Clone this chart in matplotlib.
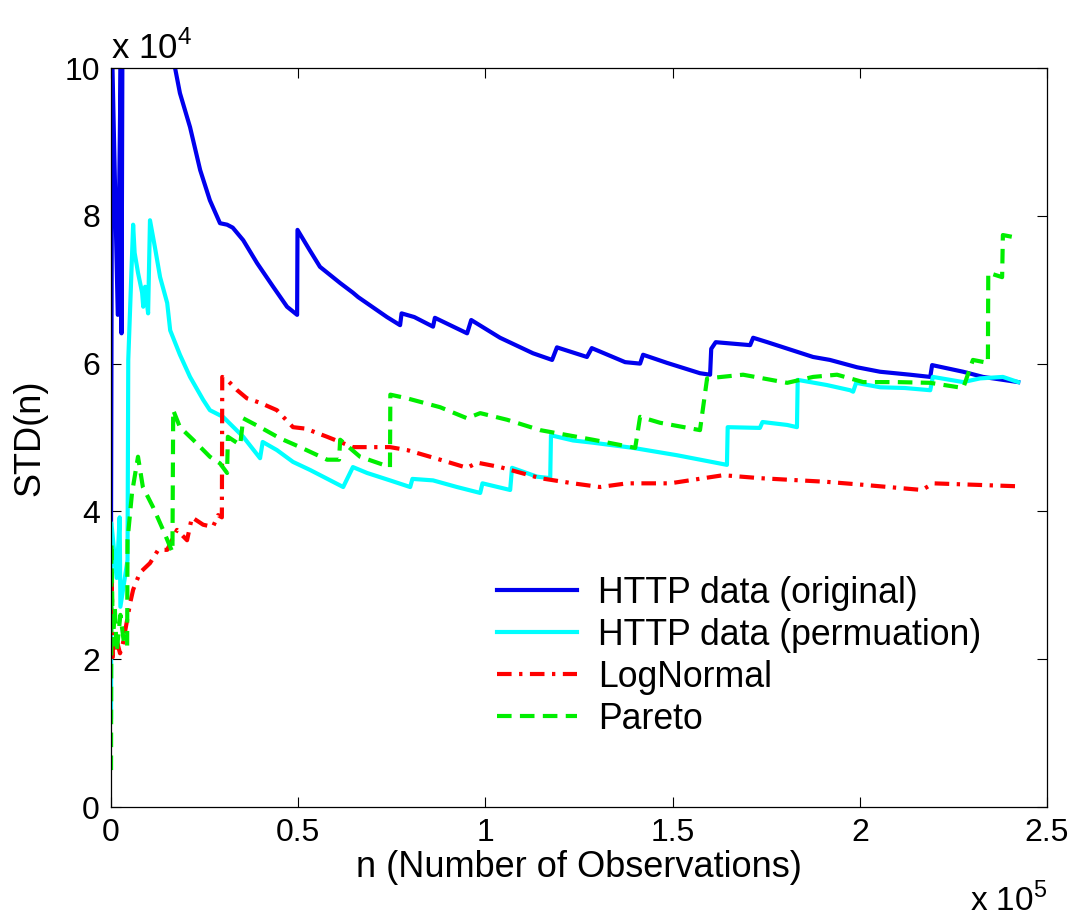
import matplotlib
matplotlib.use("Agg")
import matplotlib.pyplot as plt

plt.rcParams['font.family'] = ['Liberation Sans', 'DejaVu Sans']
plt.rcParams['mathtext.fontset'] = 'custom'
plt.rcParams['mathtext.rm'] = 'Liberation Sans'

# x in thousands of observations, y in thousands
orig_x = [0, 0.3, 1.8, 2.6, 2.8, 3.2, 10, 17.1, 18.4, 21.1, 23.8, 26.4, 29.1, 31.0, 32.5, 35.3,
          39.0, 43.3, 47.0, 49.7, 49.8, 53.0, 55.8, 61.2, 64.6, 66.0, 73.7, 77.2, 77.6, 81.0,
          86.0, 86.5, 95.1, 96.2, 103.9, 112.7, 117.8, 119.1, 127.1, 128.4, 137.3, 141.3, 142.1,
          148.5, 157.3, 160.0, 160.3, 161.5, 170.7, 171.5, 175.3, 187.5, 192.0, 199.3, 205.4,
          213.4, 218.8, 219.3, 227.6, 232.9, 242.3]
orig_y = [38.5, 102, 66.6, 102, 64.1, 130, 115, 100, 96.6, 92.0, 86.2, 82.1, 79.0, 78.8, 78.4, 76.7,
          73.6, 70.4, 67.7, 66.6, 78.1, 75.4, 73.1, 70.9, 69.6, 69.0, 66.3, 65.2, 66.8, 66.3,
          65.0, 66.2, 64.1, 65.9, 63.5, 61.4, 60.5, 62.2, 60.9, 62.1, 60.2, 60.0, 61.2,
          60.1, 58.7, 58.5, 62.0, 62.9, 62.5, 63.5, 62.9, 60.9, 60.5, 59.5, 58.9,
          58.5, 58.2, 59.8, 58.9, 58.2, 57.5]

perm_x = [0, 0.1, 1.5, 2.3, 2.5, 4.4, 4.6, 5.9, 6.3, 7.2, 8.3, 8.6, 9.1, 9.9, 10.4, 11.7, 13.1,
          15.0, 15.8, 18.4, 21.1, 24.6, 26.4, 29.9, 35.3, 39.8, 40.5, 44.3, 48.6, 53.2, 62.0,
          64.6, 68.4, 74.5, 79.9, 80.5, 86.0, 92.4, 98.6, 99.2, 106.6, 107.1, 113.8, 117.3,
          117.5, 123.4, 128.7, 139.4, 151.2, 164.5, 164.7, 173.3, 174.0, 180.6, 183.2, 183.4,
          191.2, 197.4, 198.2, 199.0, 205.4, 212.0, 218.8, 219.5, 227.6, 232.1, 238.2, 242.3]
perm_y = [12.2, 38.4, 31.0, 39.2, 27.1, 33.4, 60.5, 78.8, 75.0, 72.3, 69.6, 67.7, 70.4, 66.8, 79.4,
          75.8, 71.7, 68.2, 64.5, 61.2, 58.2, 55.1, 53.7, 52.8, 50.1, 47.2, 49.4, 48.3, 46.7,
          45.6, 43.3, 46.0, 45.2, 44.2, 43.3, 44.4, 44.2, 43.3, 42.5, 43.8, 42.9, 45.9, 44.7,
          44.5, 50.3, 49.6, 49.3, 48.6, 47.6, 46.3, 51.4, 51.3, 52.1, 51.7, 51.4, 57.8, 57.1,
          56.4, 56.2, 57.4, 56.8, 56.7, 56.4, 58.2, 57.5, 58.0, 58.2, 57.5]

logn_x = [0, 0.2, 0.5, 1.5, 2.4, 3.2, 5.1, 5.9, 7.7, 10.4, 12.6, 15.0, 17.6, 20.3, 21.6, 24.6,
          27.2, 28.6, 29.6, 29.7, 31.0, 33.7, 36.3, 39.8, 44.3, 48.6, 52.0, 57.7, 64.6, 66.5,
          74.5, 79.1, 87.9, 95.1, 97.8, 103.9, 114.6, 123.4, 130.6, 137.8, 149.3, 163.5,
          173.3, 191.2, 200.9, 209.9, 216.6, 219.6, 242.3]
logn_y = [25.0, 30.3, 20.3, 22.6, 20.8, 22.2, 27.6, 29.4, 31.7, 33.0, 34.8, 34.8, 37.5, 36.1,
          39.2, 38.2, 37.9, 39.5, 39.2, 58.2, 57.8, 56.4, 55.3, 54.7, 53.7, 51.4, 51.2, 50.1,
          48.7, 48.7, 48.7, 48.3, 47.0, 45.9, 46.6, 46.0, 44.5, 43.8, 43.3, 43.8, 43.8, 44.9,
          44.5, 44.0, 43.6, 43.2, 42.9, 43.8, 43.4]

par_x = [0, 0.1, 0.5, 1.0, 1.5, 2.5, 3.5, 4.3, 4.4, 5.6, 7.2, 8.5, 11.2, 13.9, 15.8, 16.4, 16.6,
         18.4, 21.9, 26.4, 29.1, 31.0, 31.2, 34.5, 35.3, 39.8, 45.1, 50.5, 57.7, 60.9, 61.2,
         66.5, 74.5, 74.6, 79.1, 87.9, 95.1, 98.6, 105.8, 114.6, 128.7, 140.0, 141.3, 146.6,
         157.3, 159.2, 168.8, 180.6, 187.5, 193.9, 200.9, 209.9, 218.8, 227.6, 230.2, 234.2,
         234.3, 238.0, 238.2, 242.3]
par_y = [5.0, 35.7, 22.0, 27.0, 21.0, 26.0, 22.0, 21.7, 36.1, 42.5, 47.4, 43.3, 40.6, 37.5,
         35.2, 34.5, 53.7, 51.4, 49.7, 47.4, 46.5, 45.2, 50.1, 49.0, 52.6, 51.4, 49.9, 48.7,
         47.0, 47.0, 49.7, 47.4, 46.0, 55.8, 55.3, 54.1, 52.6, 53.3, 52.4, 51.0, 49.7, 48.6,
         52.8, 52.0, 51.0, 58.0, 58.5, 57.4, 58.2, 58.5, 57.5, 57.5, 57.4, 56.7, 60.5, 60.1,
         72.3, 71.7, 77.4, 77.0]

labels = ['HTTP data (original)', 'HTTP data (permuation)', 'LogNormal', 'Pareto']

fig = plt.figure(figsize=(10.76, 9.18), dpi=100)
ax = fig.add_axes([0.1032, 0.1209, 0.8699, 0.805])

lw = 3
ax.plot([v / 100 for v in orig_x], [v / 10 for v in orig_y], color='#0000ee', lw=lw, label=labels[0])
ax.plot([v / 100 for v in perm_x], [v / 10 for v in perm_y], color='#00ffff', lw=lw, label=labels[1])
ax.plot([v / 100 for v in logn_x], [v / 10 for v in logn_y], color='#ff0000', lw=lw,
        dashes=(3.5, 1.8, 0.8, 1.8), label=labels[2])
ax.plot([v / 100 for v in par_x], [v / 10 for v in par_y], color='#00ee00', lw=lw,
        dashes=(3.5, 2.0), label=labels[3])

ax.set_xlim(0, 2.5)
ax.set_ylim(0, 10)
ax.set_xticks([0, 0.5, 1, 1.5, 2, 2.5])
ax.set_xticklabels(['0', '0.5', '1', '1.5', '2', '2.5'])
ax.set_yticks([0, 2, 4, 6, 8, 10])
ax.tick_params(direction='in', length=7, width=0.8, top=True, right=True, labelsize=23, pad=8)
for s in ax.spines.values():
    s.set_linewidth(0.9)

ax.set_xlabel('n (Number of Observations)', fontsize=26, labelpad=1)
ax.set_ylabel('STD(n)', fontsize=26, labelpad=12)

ax.text(0.0, 1.003, r'x 10$^{4}$', transform=ax.transAxes, fontsize=25, ha='left', va='bottom')
ax.text(1.0, -0.103, r'x 10$^{5}$', transform=ax.transAxes, fontsize=24, ha='right', va='top')

leg = ax.legend(loc='center left', bbox_to_anchor=(0.412, 0.204), frameon=False, fontsize=25.7,
                handlelength=2.25, handletextpad=0.6, labelspacing=0.2,
                borderaxespad=0, borderpad=0)

fig.savefig('out.png', dpi=100)
